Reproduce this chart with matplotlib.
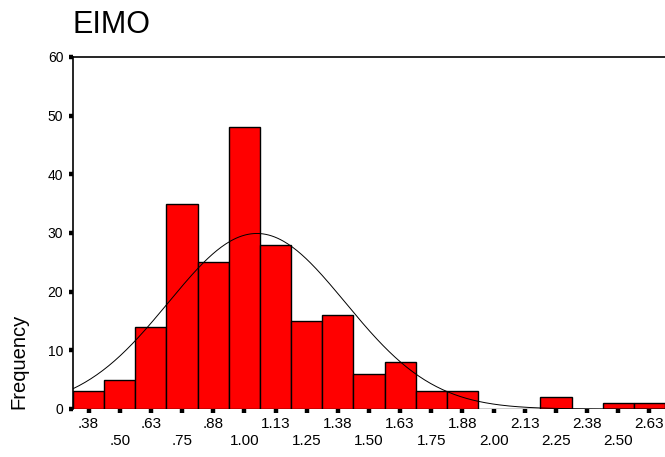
import numpy as np
import matplotlib
matplotlib.use("Agg")
import matplotlib.pyplot as plt

# ── data ─────────────────────────────────────────────────────────────
bin_centers = [0.375, 0.5, 0.625, 0.75, 0.875, 1.0, 1.125, 1.25, 1.375, 1.5,
               1.625, 1.75, 1.875, 2.0, 2.125, 2.25, 2.375, 2.5, 2.625]
counts = [3, 5, 14, 35, 25, 48, 28, 15, 16, 6,
          8, 3, 3, 0, 0, 2, 0, 1, 1]
tick_labels = [".38", ".50", ".63", ".75", ".88", "1.00", "1.13", "1.25", "1.38", "1.50",
               "1.63", "1.75", "1.88", "2.00", "2.13", "2.25", "2.38", "2.50", "2.63"]
bin_width = 0.125
fit_mean = 1.05      # normal curve parameters (estimated)
fit_sd = 0.355

plt.rcParams["font.family"] = ["Liberation Sans", "DejaVu Sans"]

fig = plt.figure(figsize=(6.65, 4.57), dpi=100)
ax = fig.add_axes([73 / 665, 1 - 409 / 457, 1 - 73 / 665, (409 - 57) / 457])

ax.bar(bin_centers, counts, width=bin_width, color="#ff0000",
       edgecolor="black", linewidth=1.0, zorder=2)

# normal curve scaled to the histogram
n_total = sum(counts)
xs = np.linspace(0.3125, 2.6875, 400)
ys = n_total * bin_width / (fit_sd * np.sqrt(2 * np.pi)) * np.exp(-0.5 * ((xs - fit_mean) / fit_sd) ** 2)
ax.plot(xs, ys, color="black", linewidth=0.7, zorder=3)

ax.set_xlim(0.3125, 2.6875)
ax.set_ylim(0, 60)
ax.set_yticks(range(0, 61, 10))
ax.set_xticks(bin_centers)
ax.set_xticklabels([lab if i % 2 == 0 else "\n" + lab for i, lab in enumerate(tick_labels)],
                   fontsize=11, linespacing=1.2)
ax.tick_params(axis="y", labelsize=10, length=3, width=3.2, pad=4)
ax.tick_params(axis="x", length=3, width=3.2, pad=3)

ax.spines["right"].set_visible(False)
ax.spines["bottom"].set_visible(False)
ax.spines["left"].set_linewidth(1.2)
ax.spines["top"].set_linewidth(1.2)

ax.set_ylabel("Frequency", loc="bottom", fontsize=14.5, labelpad=14)
ax.set_title("EIMO", loc="left", fontsize=22, pad=17, x=-0.001)

fig.savefig("out.png", dpi=100)
